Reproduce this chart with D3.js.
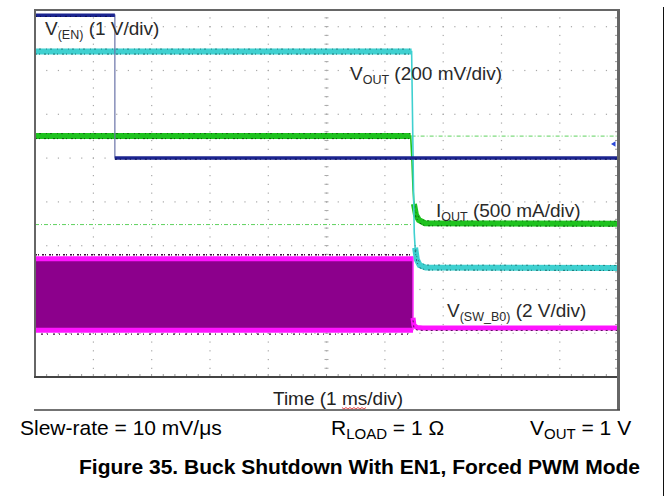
<!DOCTYPE html>
<html><head><meta charset="utf-8">
<script src="https://cdn.jsdelivr.net/npm/d3@7"></script>
<style>
body{margin:0;background:#fff}
svg{display:block}
text{font-family:"Liberation Sans",Arial,Helvetica,sans-serif}
</style>
</head><body>
<svg id="c" width="669" height="496"></svg>
<script>
// ---- data (time in ms, 1 ms/div; levels in screen divisions) ----
const timeTicks = [0,1,2,3,4,5,6,7,8,9,10];
const levelTicks = [0,1,2,3,4,5,6,7,8];
const enTime  = [0, 1.37, 1.37, 10];
const enLevel = [8.26, 8.26, 5.0, 5.0];
const voutTime  = [0, 6.46, 6.475, 6.49, 6.505, 6.52, 6.55, 6.60, 6.70, 10];
const voutLevel = [7.43, 7.43, 6.0, 4.5, 3.3, 2.95, 2.68, 2.55, 2.5, 2.49];
const ioutTime  = [0, 6.444, 6.467, 6.484, 6.50, 6.535, 6.587, 6.69, 10];
const ioutLevel = [5.5, 5.5, 4.9, 4.3, 3.95, 3.7, 3.58, 3.51, 3.5];
const ioutRefTime  = [[0, 6.46], [6.46, 10]];
const ioutRefLevel = [3.48, 5.5];
const swTime = [0, 6.484];
const swHighLevel = 2.70;
const swLowLevel = 1.07;
const swOffTime  = [6.484, 6.50, 6.55, 6.65, 10];
const swOffLevel = [1.35, 1.18, 1.13, 1.12, 1.12];
const traceLabels = [
  {main:"V", sub:"(EN)", rest:" (1 V/div)"},
  {main:"V", sub:"OUT", rest:" (200 mV/div)"},
  {main:"I", sub:"OUT", rest:" (500 mA/div)"},
  {main:"V", sub:"(SW_B0)", rest:" (2 V/div)"}
];
const timeLabel = "Time (1 ms/div)";
const condLabels = [
  {main:"Slew-rate = 10 mV/μs", sub:"", rest:""},
  {main:"R", sub:"LOAD", rest:" = 1 Ω"},
  {main:"V", sub:"OUT", rest:" = 1 V"}
];
const caption = "Figure 35. Buck Shutdown With EN1, Forced PWM Mode";

// ---- scales ----
const svg = d3.select("#c");
const x = d3.scaleLinear().domain([0,10]).range([35,618]);
const y = d3.scaleLinear().domain([0,8]).range([377,26.6]);
const topLevel = y.invert(10);
const line = d3.line().x(d=>x(d[0])).y(d=>y(d[1]));
const zip = (a,b)=>a.map((v,i)=>[v,b[i]]);

// ---- graticule ----
const g = svg.append("g");
const minorT = d3.range(0, 10.001, 0.2);
const minorL = d3.range(0, topLevel, 0.2);
levelTicks.forEach(l=>{
  minorT.forEach(t=>g.append("rect").attr("x",x(t)-0.5).attr("y",y(l)-0.5).attr("width",1.2).attr("height",1.2).attr("fill","#a8a8a8"));
});
timeTicks.forEach(t=>{
  minorL.forEach(l=>g.append("rect").attr("x",x(t)-0.5).attr("y",y(l)-0.5).attr("width",1.2).attr("height",1.2).attr("fill","#a8a8a8"));
});
// center vertical ticks
minorL.forEach(l=>g.append("line").attr("x1",x(5)-2).attr("x2",x(5)+2).attr("y1",y(l)).attr("y2",y(l)).attr("stroke","#aaa").attr("stroke-width",1));
// border ticks
minorT.forEach(t=>g.append("line").attr("x1",x(t)).attr("x2",x(t)).attr("y1",y(0)).attr("y2",y(0)-3).attr("stroke","#999").attr("stroke-width",1));
minorL.forEach(l=>g.append("line").attr("x1",x(10)).attr("x2",x(10)-3).attr("y1",y(l)).attr("y2",y(l)).attr("stroke","#999").attr("stroke-width",1));

// ---- reference dash-dot lines (I_OUT) ----
ioutRefTime.forEach((r,i)=>{
  svg.append("path").attr("d", line([[r[0],ioutRefLevel[i]],[r[1],ioutRefLevel[i]]]))
    .attr("stroke","#5fd25f").attr("stroke-width",1).attr("stroke-dasharray","4,2,1,2").attr("fill","none");
});

// ---- V_SW switching band ----
const swBand = svg.append("g");
swBand.append("rect").attr("x",x(swTime[0])).attr("width",x(swTime[1])-x(swTime[0]))
  .attr("y",y(swHighLevel)).attr("height",y(swLowLevel)-y(swHighLevel)).attr("fill","#8c008c");
[swHighLevel, swLowLevel].forEach(l=>{
  swBand.append("path").attr("d", line([[swTime[0],l],[swTime[1],l]])).attr("stroke","#ff14ff").attr("stroke-width",5).attr("fill","none");
});
swBand.append("path").attr("d", line([[swTime[0],swHighLevel],[swTime[1],swHighLevel]])).attr("transform","translate(0,-4)")
  .attr("stroke","#3a0a3a").attr("stroke-width",1.4).attr("stroke-dasharray","2,1,1,3").attr("fill","none");
swBand.append("path").attr("d", line([[swTime[0],swLowLevel],[swTime[1],swLowLevel]])).attr("transform","translate(0,4)")
  .attr("stroke","#3a0a3a").attr("stroke-width",1.2).attr("stroke-dasharray","1,5,2,4").attr("fill","none");
swBand.append("path").attr("d", line([[swTime[1],swHighLevel+0.05],[swTime[1],swLowLevel]]))
  .attr("stroke","#ff30ff").attr("stroke-width",1.5).attr("fill","none");
const swOff = zip(swOffTime, swOffLevel);
svg.append("path").attr("d", line(swOff)).attr("stroke","#ff14ff").attr("stroke-width",5).attr("fill","none").attr("stroke-linejoin","round");
svg.append("path").attr("d", line(swOff)).attr("transform","translate(0,2.5)").attr("stroke","#5a0a5a").attr("stroke-width",1).attr("stroke-dasharray","2,3").attr("fill","none");

// ---- helper for thick noisy trace ----
function trace(pts, thickIdx, color, dark, w){
  svg.append("path").attr("d", line(pts)).attr("stroke",color).attr("stroke-width",1.6).attr("fill","none");
  thickIdx.forEach(([a,b])=>{
    const seg = pts.slice(a,b+1);
    svg.append("path").attr("d", line(seg)).attr("stroke",color).attr("stroke-width",w).attr("fill","none").attr("stroke-linejoin","round");
    svg.append("path").attr("d", line(seg)).attr("transform",`translate(0,${w/2-0.5})`).attr("stroke",dark).attr("stroke-width",1).attr("stroke-dasharray","2,2,1,4").attr("fill","none");
    svg.append("path").attr("d", line(seg)).attr("transform",`translate(0,${-w/2+0.5})`).attr("stroke",dark).attr("stroke-width",0.8).attr("stroke-dasharray","1,3,2,5").attr("fill","none");
  });
}
// I_OUT (green)
const iout = zip(ioutTime, ioutLevel);
trace(iout, [[0,1],[4,8]], "#1ec21e", "#0b5a0b", 6);
// V_OUT (cyan)
const vout = zip(voutTime, voutLevel);
trace(vout, [[0,1],[5,9]], "#3fd0d0", "#1a6e6e", 6);
// V_EN (navy)
const en = zip(enTime, enLevel);
svg.append("path").attr("d", line(en)).attr("stroke","#6a73a8").attr("stroke-width",1.2).attr("fill","none");
[[0,1],[2,3]].forEach(([a,b])=>{
  const seg = en.slice(a,b+1);
  svg.append("path").attr("d", line(seg)).attr("stroke","#1c2590").attr("stroke-width",3.5).attr("fill","none");
  svg.append("path").attr("d", line(seg)).attr("transform","translate(0,1.2)").attr("stroke","#0a0f4a").attr("stroke-width",1).attr("stroke-dasharray","2,3,1,4").attr("fill","none");
});
// trigger marker
svg.append("path").attr("d", d3.line()([[611,144],[615.5,141.2],[615.5,146.8]])+"Z").attr("fill","#2a48d8");

// ---- frame ----
const fr = svg.append("g").attr("fill","none");
fr.append("line").attr("x1",34).attr("x2",619).attr("y1",10).attr("y2",10).attr("stroke","#666").attr("stroke-width",2);
fr.append("line").attr("x1",35).attr("x2",35).attr("y1",10).attr("y2",378).attr("stroke","#666").attr("stroke-width",2);
fr.append("line").attr("x1",34).attr("x2",619).attr("y1",377).attr("y2",377).attr("stroke","#444").attr("stroke-width",2);
fr.append("line").attr("x1",618.5).attr("x2",618.5).attr("y1",9).attr("y2",410).attr("stroke","#666").attr("stroke-width",3);
fr.append("line").attr("x1",34).attr("x2",620).attr("y1",410).attr("y2",410).attr("stroke","#444").attr("stroke-width",1.5);
fr.append("line").attr("x1",663.5).attr("x2",663.5).attr("y1",7).attr("y2",496).attr("stroke","#111").attr("stroke-width",1);

// ---- labels ----
function subText(sel, d, px, py, fs, sfs, fill){
  const t = sel.append("text").attr("x",px).attr("y",py).attr("font-size",fs).attr("fill",fill);
  t.append("tspan").text(d.main);
  if (d.sub) t.append("tspan").attr("font-size",sfs).attr("dy",4).text(d.sub);
  if (d.rest) t.append("tspan").attr("dy", d.sub ? -4 : 0).text(d.rest);
  return t;
}
const labelPos = [[45,35],[350,80],[436,217],[447,317]];
traceLabels.forEach((d,i)=>subText(svg, d, labelPos[i][0], labelPos[i][1], 19, 12.5, "#2a2a2a"));

const tl = svg.append("text").attr("x",273).attr("y",405).attr("font-size",19).attr("fill","#222").text(timeLabel);
// spell-check squiggle under "ms"
const node = tl.node();
const msIdx = timeLabel.indexOf("ms");
const s0 = node.getStartPositionOfChar(msIdx).x, s1 = node.getEndPositionOfChar(msIdx+1).x;
const sq = d3.range(s0, s1, 2).map((v,i)=>[v, 408 + (i%2?1:-0.5)]);
svg.append("path").attr("d", d3.line()(sq)).attr("stroke","#e03030").attr("stroke-width",0.9).attr("fill","none");

const condPos = [[20,435],[331,435],[530,435]];
condLabels.forEach((d,i)=>subText(svg, d, condPos[i][0], condPos[i][1], 21, 15, "#000"));

svg.append("text").attr("x",79).attr("y",474).attr("font-size",21).attr("font-weight","bold").attr("fill","#000").text(caption);
</script>
</body></html>
